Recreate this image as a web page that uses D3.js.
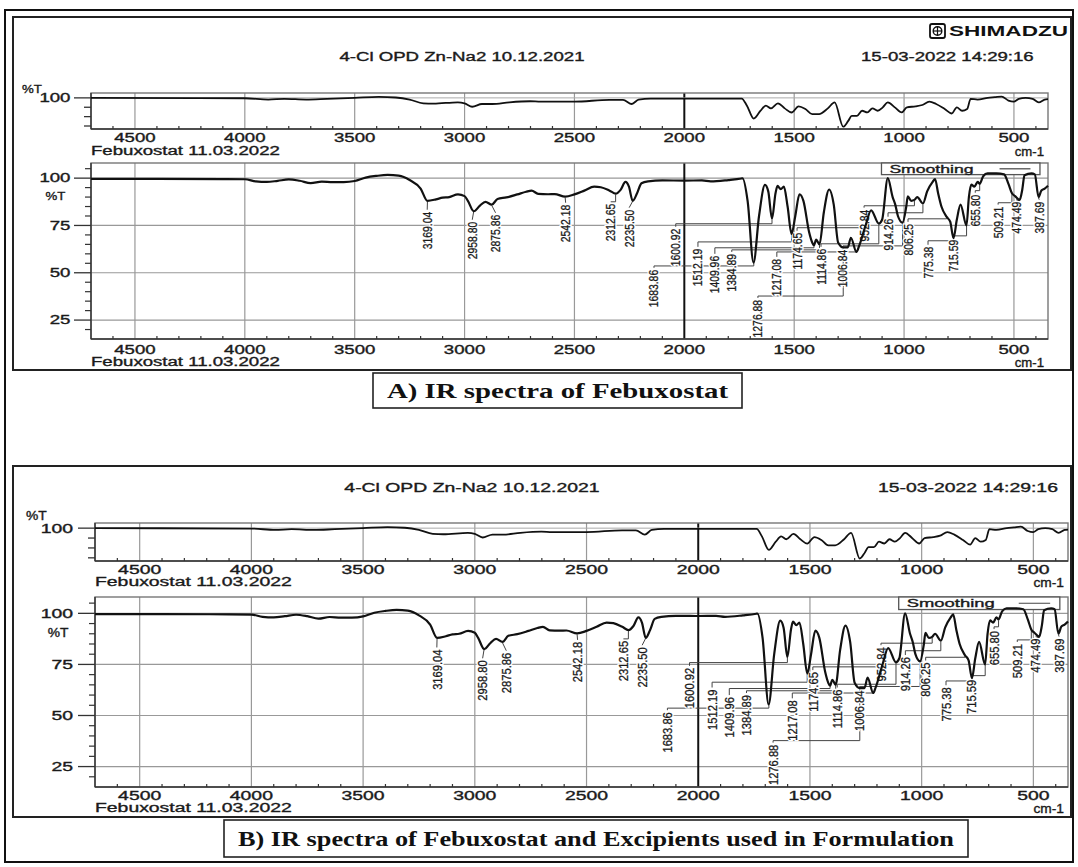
<!DOCTYPE html>
<html><head><meta charset="utf-8">
<script src="https://cdn.jsdelivr.net/npm/d3@7"></script>
<style>
body{margin:0;background:#fff;}
svg{display:block;}
</style></head>
<body>
<svg id="chart" width="1078" height="867"></svg>
<script>
// ---------------- DATA ----------------
const sampleTitle = "4-Cl OPD Zn-Na2 10.12.2021";
const printDate = "15-03-2022 14:29:16";
const sampleName = "Febuxostat 11.03.2022";
const unitLabel = "cm-1";
const yUnit = "%T";
const legendText = "Smoothing";
const captions = ["A) IR spectra of Febuxostat", "B) IR spectra of Febuxostat and Excipients used in Formulation"];

const xDomain = [4700, 345];
const xTickValues = [4500, 4000, 3500, 3000, 2500, 2000, 1500, 1000, 500];
const xMinorTicks = [4600,4400,4300,4200,4100,3900,3800,3700,3600,3400,3300,3200,3100,2900,2800,2700,2600,2400,2300,2200,2100,1900,1800,1700,1600,1400,1300,1200,1100,900,800,700,600,400];
const mainYDomain = [15, 108];
const mainYTicks = [100, 75, 50, 25];
const mainYMinor = [105,95,90,85,80,70,65,60,55,45,40,35,30,20];
const stripYDomain = [17, 113];
const stripYTicks = [100, 75, 50, 25];

// Febuxostat spectrum (main plot)
const febWn = [4700,4400,4100,4000,3950,3900,3850,3800,3750,3700,3650,3600,3550,3500,3450,3400,3350,3300,3250,3200,
  3169,3130,3100,3070,3030,3000,2985,2958,2930,2905,2876,2850,2810,2760,2720,2695,2665,2620,2590,2542,
  2500,2455,2410,2380,2340,2312,2290,2268,2252,2235,2215,2195,2165,2100,2000,1920,1880,1800,1740,1735,
  1712,1685,1660,1633,1618,1601,1585,1576,1561,1547,1530,1512,1495,1476,1458,1432,1418,1410,1400,1385,
  1365,1341,1320,1300,1277,1256,1242,1217,1205,1175,1150,1115,1100,1074,1052,1040,1028,1007,990,983,
  968,953,940,914,895,870,859,845,830,806,790,775,760,743,716,705,694,680,665,656,
  640,620,580,545,525,509,495,474,462,452,420,405,388,375,360,345];
const febT = [99.6,99.6,99.5,99.4,98.3,98.0,98.6,99.3,98.6,97.4,98.2,97.9,97.9,98.5,100.3,101.2,101.7,101.3,99.0,94.5,
  88.0,88.8,89.7,90.0,91.4,90.5,88.0,82.5,85.5,87.5,86.0,89.0,89.8,91.4,92.8,93.4,91.7,91.5,91.6,90.2,
  91.4,93.4,95.5,95.2,93.4,91.8,93.8,98.0,95.5,88.0,92.0,97.3,98.3,98.8,98.7,98.8,98.3,99.0,99.8,99.9,
  88.0,55.4,80.0,96.4,93.0,78.6,92.0,95.9,94.2,95.5,85.0,70.5,80.0,91.5,88.0,71.4,66.0,64.5,67.5,65.0,
  82.0,94.0,86.0,66.0,63.4,63.4,68.5,61.0,64.0,75.0,83.0,76.0,78.0,100.0,90.0,86.0,80.0,76.5,85.0,90.4,
  88.0,88.5,90.0,86.6,93.0,98.0,99.5,92.0,85.0,79.5,77.0,68.3,78.0,86.0,75.0,90.0,96.6,95.5,98.0,97.0,
  101.0,102.5,102.5,102.0,97.0,92.0,90.5,88.5,94.0,101.5,102.5,102.0,90.0,93.5,94.5,96.0];

// 4-Cl OPD Zn-Na2 spectrum (small strip plot)
const refWn = [4700,4000,3893,3820,3721,3627,3501,3391,3313,3250,3188,3141,3031,3000,2965,2921,2874,2796,2702,2654,
  2500,2341,2279,2239,2208,2153,2000,1739,1715,1684,1653,1629,1606,1574,1543,1512,1480,1449,1418,1387,
  1347,1316,1277,1254,1238,1214,1191,1167,1144,1120,1097,1074,1042,1011,987,948,917,885,854,815,
  783,760,736,713,697,666,619,587,556,525,501,478,447,415,387,360,345];
const refT = [100,99,95.5,97.5,95.5,97.3,100,102.7,101,95.5,85.5,84.6,88.2,85.5,76.4,83.7,83.7,88.2,91,90,
  90,94.6,94.6,83.7,95.5,98.2,98.2,98.2,79.2,44.9,65.7,79.2,72,85.5,72,61,77.4,70.2,56.6,56.6,
  72,88.2,23.2,38.6,52.1,52.1,65.7,61.2,72,65.7,74.7,88.2,74.7,61.2,74.7,77.4,81,90,83.7,70.2,
  58.4,74.7,65.7,70.2,97.3,95.5,100,101.8,103.6,92.8,90,97.3,100,97.3,88.2,95.5,96.5];

// Peak annotations
const peakText = ["3169.04","2958.80","2875.86","2542.18","2312.65","2235.50","1683.86","1600.92","1512.19","1409.96",
  "1384.89","1276.88","1217.08","1174.65","1114.86","1006.84","952.84","914.26","806.25","775.38",
  "715.59","655.80","509.21","474.49","387.69"];
const peakWn = [3169.04,2958.80,2875.86,2542.18,2312.65,2235.50,1683.86,1600.92,1512.19,1409.96,
  1384.89,1276.88,1217.08,1174.65,1114.86,1006.84,952.84,914.26,806.25,775.38,
  715.59,655.80,509.21,474.49,387.69];
const labelWn = [3170,2965,2859,2540,2335,2251,2138,2039,1938,1861,1784,1665,1579,1487,1378,1278,1182,1073,982,891,777,676,572,490,385];
const labelTopT = [83.3,78.0,81.7,87.0,87.5,84.4,52.6,74.3,63.7,60.0,61.0,36.7,58.4,72.2,63.7,63.2,84.4,79.6,76.9,64.8,68.5,92.3,86.0,88.6,88.6];
const leaderT = [83.3,78.0,81.7,87.0,87.5,84.4,53.6,75.9,66.3,63.2,62.1,37.7,61.0,73.8,65.3,64.2,85.4,81.7,78.5,66.9,69.5,93.4,87.0,89.7,89.7];

// ---------------- DRAW ----------------
const svg = d3.select("#chart");
const FONT = "'Liberation Sans', Arial, sans-serif";

function stretch(sel, sx) {
  sel.each(function () {
    const L = this.getComputedTextLength();
    d3.select(this).attr("textLength", L * sx).attr("lengthAdjust", "spacingAndGlyphs");
  });
}
function interpT(wArr, tArr, w) {
  for (let i = 0; i < wArr.length - 1; i++) {
    const a = wArr[i], b = wArr[i + 1];
    if (w <= a && w >= b) { const f = (a - w) / (a - b); return tArr[i] + (tArr[i + 1] - tArr[i]) * f; }
  }
  return tArr[tArr.length - 1];
}

// outer border
svg.append("rect").attr("x", 5).attr("y", 10).attr("width", 1068).attr("height", 852)
  .attr("fill", "none").attr("stroke", "#111").attr("stroke-width", 2);

const panels = [
  { frame: [13, 17, 1071, 370], logo: true, titleY: 57, titleX: 462, dateX: 861,
    x0: 91, x1: 1048, s0: 93, s1: 129, m0: 163, m1: 339,
    stripPctY: 89, stripLabelY: 137.5, stripNameY: 150.5, mainLabelY: 350, mainNameY: 362,
    fs: 12, sx: 1.55, yLabelX: 70.5, peakSx: 0.83, caption: [373, 373, 742, 408], capFs: 21 },
  { frame: [13, 466, 1071, 817], logo: false, titleY: 488, titleX: 472, dateX: 878,
    x0: 95, x1: 1068, s0: 523, s1: 561, m0: 597, m1: 787,
    stripPctY: 516, stripLabelY: 570, stripNameY: 582, mainLabelY: 796, mainNameY: 808,
    fs: 12.5, sx: 1.55, yLabelX: 73, peakSx: 0.86, caption: [224, 820, 968, 857], capFs: 22 }
];

panels.forEach((P, pi) => {
  const g = svg.append("g");
  const [fx0, fy0, fx1, fy1] = P.frame;
  g.append("rect").attr("x", fx0).attr("y", fy0).attr("width", fx1 - fx0).attr("height", fy1 - fy0)
    .attr("fill", "none").attr("stroke", "#222").attr("stroke-width", 2);

  const txt = (x, y, s, anchor, fs, sx, weight) => {
    const t = g.append("text").attr("x", x).attr("y", y).attr("dy", "0.35em")
      .attr("text-anchor", anchor).attr("font-family", FONT).attr("font-size", fs)
      .attr("font-weight", weight || "normal").attr("fill", "#1a1a1a")
      .attr("stroke", "#1a1a1a").attr("stroke-width", 0.35).text(s);
    stretch(t, sx);
    return t;
  };

  // header
  if (P.logo) {
    const lg = g.append("g");
    lg.append("rect").attr("x", 930).attr("y", 24).attr("width", 15).attr("height", 14).attr("rx", 2)
      .attr("fill", "none").attr("stroke", "#111").attr("stroke-width", 1.8);
    lg.append("circle").attr("cx", 937.5).attr("cy", 31).attr("r", 4.3).attr("fill", "none").attr("stroke", "#111").attr("stroke-width", 1.4);
    lg.append("line").attr("x1", 937.5).attr("x2", 937.5).attr("y1", 26.5).attr("y2", 35.5).attr("stroke", "#111").attr("stroke-width", 1.2);
    lg.append("line").attr("x1", 933).attr("x2", 942).attr("y1", 31).attr("y2", 31).attr("stroke", "#111").attr("stroke-width", 1.2);
    const lt = lg.append("text").attr("x", 949).attr("y", 31).attr("dy", "0.36em").attr("font-family", FONT)
      .attr("font-size", 14).attr("font-weight", "bold").attr("fill", "#111").text("SHIMADZU");
    lt.attr("textLength", 119).attr("lengthAdjust", "spacingAndGlyphs");
  }
  txt(P.titleX, P.titleY, sampleTitle, "middle", P.fs, P.sx);
  txt(P.dateX, P.titleY, printDate, "start", P.fs, P.sx);

  const xs = d3.scaleLinear().domain(xDomain).range([P.x0, P.x1]);
  const ysS = d3.scaleLinear().domain(stripYDomain).range([P.s1, P.s0]);
  const ysM = d3.scaleLinear().domain(mainYDomain).range([P.m1, P.m0]);

  // ---------- strip plot ----------
  const sg = g.append("g");
  sg.selectAll(".vg").data(xTickValues).join("line")
    .attr("x1", d => xs(d)).attr("x2", d => xs(d)).attr("y1", P.s0).attr("y2", P.s1)
    .attr("stroke", d => d === 2000 ? "#111" : "#999").attr("stroke-width", d => d === 2000 ? 2 : 1.2);
  sg.append("line").attr("x1", P.x0).attr("x2", P.x1).attr("y1", ysS(100)).attr("y2", ysS(100))
    .attr("stroke", "#aaa").attr("stroke-width", 1);
  sg.append("rect").attr("x", P.x0).attr("y", P.s0).attr("width", P.x1 - P.x0).attr("height", P.s1 - P.s0)
    .attr("fill", "none").attr("stroke", "#777").attr("stroke-width", 1.4);
  sg.append("line").attr("x1", P.x0).attr("x2", P.x0).attr("y1", P.s0).attr("y2", P.s1).attr("stroke", "#333").attr("stroke-width", 1.4);
  sg.append("line").attr("x1", P.x0).attr("x2", P.x1).attr("y1", P.s1).attr("y2", P.s1).attr("stroke", "#333").attr("stroke-width", 1.4);
  sg.selectAll(".yt").data(stripYTicks).join("line")
    .attr("x1", d => P.x0 - (d === 100 ? 17 : 7)).attr("x2", P.x0).attr("y1", d => ysS(d)).attr("y2", d => ysS(d))
    .attr("stroke", "#333").attr("stroke-width", 1.3);
  sg.selectAll(".xm").data(xMinorTicks).join("line")
    .attr("x1", d => xs(d)).attr("x2", d => xs(d)).attr("y1", P.s1).attr("y2", P.s1 - 3)
    .attr("stroke", "#333").attr("stroke-width", 1.2);
  txt(P.x0 - 69, P.stripPctY, yUnit, "start", P.fs - 0.5, 1.15);
  txt(P.yLabelX, ysS(100), "100", "end", P.fs, P.sx);
  xTickValues.forEach(v => txt(xs(v), P.stripLabelY, String(v), "middle", P.fs, P.sx));
  txt(P.x0, P.stripNameY, sampleName, "start", P.fs, P.sx);
  txt(P.x1 - 4, P.stripNameY + 1, unitLabel, "end", P.fs, 1.1);

  const refLine = d3.line().x((d, i) => xs(refWn[i])).y((d, i) => ysS(refT[i])).curve(d3.curveMonotoneX);
  sg.append("path").datum(refT).attr("d", refLine).attr("fill", "none").attr("stroke", "#111").attr("stroke-width", 1.8);

  // ---------- main plot ----------
  const mg = g.append("g");
  mg.selectAll(".hg").data(mainYTicks).join("line")
    .attr("x1", P.x0).attr("x2", P.x1).attr("y1", d => ysM(d)).attr("y2", d => ysM(d))
    .attr("stroke", "#999").attr("stroke-width", 1.2);
  mg.selectAll(".vg").data(xTickValues).join("line")
    .attr("x1", d => xs(d)).attr("x2", d => xs(d)).attr("y1", P.m0).attr("y2", P.m1)
    .attr("stroke", d => d === 2000 ? "#111" : "#999").attr("stroke-width", d => d === 2000 ? 2 : 1.2);
  mg.append("rect").attr("x", P.x0).attr("y", P.m0).attr("width", P.x1 - P.x0).attr("height", P.m1 - P.m0)
    .attr("fill", "none").attr("stroke", "#777").attr("stroke-width", 1.4);
  mg.append("line").attr("x1", P.x0).attr("x2", P.x0).attr("y1", P.m0).attr("y2", P.m1).attr("stroke", "#333").attr("stroke-width", 1.4);
  mg.append("line").attr("x1", P.x0).attr("x2", P.x1).attr("y1", P.m1).attr("y2", P.m1).attr("stroke", "#333").attr("stroke-width", 1.4);
  mg.selectAll(".ymaj").data(mainYTicks).join("line")
    .attr("x1", P.x0 - 17).attr("x2", P.x0).attr("y1", d => ysM(d)).attr("y2", d => ysM(d))
    .attr("stroke", "#333").attr("stroke-width", 1.3);
  mg.selectAll(".ymin").data(mainYMinor).join("line")
    .attr("x1", P.x0 - 6).attr("x2", P.x0).attr("y1", d => ysM(d)).attr("y2", d => ysM(d))
    .attr("stroke", "#333").attr("stroke-width", 1.2);
  mg.selectAll(".xm").data(xMinorTicks).join("line")
    .attr("x1", d => xs(d)).attr("x2", d => xs(d)).attr("y1", P.m1).attr("y2", P.m1 - 3)
    .attr("stroke", "#333").attr("stroke-width", 1.2);
  mainYTicks.forEach(v => txt(P.yLabelX, ysM(v), String(v), "end", P.fs, P.sx));
  txt(P.yLabelX - 15, ysM(90.5), yUnit, "middle", P.fs - 0.5, 1.15);
  xTickValues.forEach(v => txt(xs(v), P.mainLabelY, String(v), "middle", P.fs, P.sx));
  txt(P.x0, P.mainNameY, sampleName, "start", P.fs, P.sx);
  txt(P.x1 - 4, P.mainNameY + 1, unitLabel, "end", P.fs, 1.1);

  // legend
  const W = P.x1 - P.x0;
  const lx0 = P.x0 + 0.826 * W, lx1 = P.x0 + 0.9916 * W, lh = (P.m1 - P.m0) * 0.066;
  mg.append("rect").attr("x", lx0).attr("y", P.m0).attr("width", lx1 - lx0).attr("height", lh)
    .attr("fill", "#fff").attr("stroke", "#555").attr("stroke-width", 1.3);
  txt(lx0 + 0.05 * (lx1 - lx0), P.m0 + lh / 2, legendText, "start", P.fs - 1, 1.6);
  mg.append("line").attr("x1", lx0 + 0.745 * (lx1 - lx0)).attr("x2", lx0 + 0.94 * (lx1 - lx0))
    .attr("y1", P.m0 + lh / 2).attr("y2", P.m0 + lh / 2).attr("stroke", "#444").attr("stroke-width", 1.2);

  // peak leaders and labels
  const lead = mg.append("g");
  const labs = mg.append("g");
  peakText.forEach((s, i) => {
    const px = xs(peakWn[i]), py = ysM(interpT(febWn, febT, peakWn[i]));
    const lx = xs(labelWn[i]), ty = ysM(labelTopT[i]), ly = ysM(leaderT[i]);
    const pts = Math.abs(px - lx) < 4 ? [[px, py + 1], [lx, ty]] : [[px, py + 1], [px, ly], [lx, ly], [lx, ty]];
    lead.append("path").attr("d", d3.line()(pts)).attr("fill", "none").attr("stroke", "#444").attr("stroke-width", 1);
    [["#fff", 3], ["#1a1a1a", 0.3]].forEach(([sc, sw]) => {
      const t = labs.append("text").attr("transform", `translate(${lx},${ty}) rotate(-90)`)
        .attr("x", -2).attr("dy", "0.36em").attr("text-anchor", "end")
        .attr("font-family", FONT).attr("font-size", P.fs + 0.5).attr("fill", "#1a1a1a")
        .attr("stroke", sc).attr("stroke-width", sw).text(s);
      stretch(t, P.peakSx);
    });
  });

  const febLine = d3.line().x((d, i) => xs(febWn[i])).y((d, i) => ysM(febT[i])).curve(d3.curveMonotoneX);
  mg.append("path").datum(febT).attr("d", febLine).attr("fill", "none").attr("stroke", "#111")
    .attr("stroke-width", 2.2).attr("stroke-linejoin", "round");

  // caption
  const [c0, c1, c2, c3] = P.caption;
  svg.append("rect").attr("x", c0).attr("y", c1).attr("width", c2 - c0).attr("height", c3 - c1)
    .attr("fill", "#fff").attr("stroke", "#222").attr("stroke-width", 1.6);
  const ct = svg.append("text").attr("x", (c0 + c2) / 2).attr("y", (c1 + c3) / 2).attr("dy", "0.35em")
    .attr("text-anchor", "middle").attr("font-family", "'Liberation Serif', 'Times New Roman', serif")
    .attr("font-size", P.capFs).attr("font-weight", "bold").attr("fill", "#111").text(captions[pi]);
  ct.attr("textLength", (c2 - c0) - 28).attr("lengthAdjust", "spacingAndGlyphs");
});
</script>
</body></html>
